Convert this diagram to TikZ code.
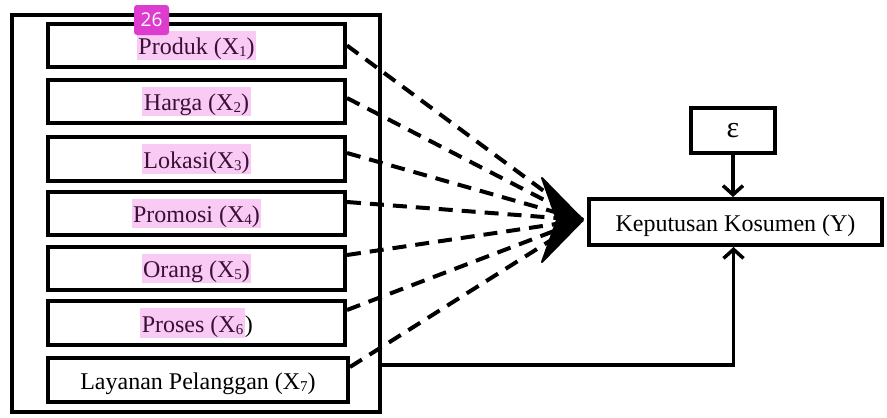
\documentclass[tikz,border=0pt]{standalone}
\usepackage{fontspec}
\setmainfont{Liberation Serif}
\newfontfamily\badgefont{Open Sans}
\usetikzlibrary{arrows.meta,calc}
\definecolor{hlpink}{RGB}{248,202,244}
\definecolor{hltext}{RGB}{58,16,54}
\definecolor{badgecol}{RGB}{222,60,206}
\newcommand{\strutr}{\rule[-4pt]{0pt}{28pt}}
\newcommand{\sbx}[1]{\raisebox{-2pt}{\fontsize{15}{15}\selectfont #1}}
\newcommand{\hlt}[1]{{\setlength{\fboxsep}{0pt}\colorbox{hlpink}{\color{hltext}\strutr\hspace{1.5pt}#1\hspace{1.5pt}}}}
\begin{document}
\begin{tikzpicture}[x=1pt,y=-1pt,
  box/.style={draw,line width=4pt,minimum width=297pt,minimum height=43.5pt,inner sep=0pt,
              font=\fontsize{24}{28}\selectfont},
  flow/.style={line width=4pt,dash pattern=on 14pt off 9pt},
  solidarrow/.style={line width=3.5pt,-{Straight Barb[length=9pt,width=20pt]}}]
\useasboundingbox (0,0) rectangle (887,418);
\node[draw,line width=4pt,minimum width=368pt,minimum height=397pt,inner sep=0pt] (outer) at (196,213.5) {};
\node[box] (b1) at (196.5,45.5) {\hlt{Produk (X\sbx{1})}};
\node[box] (b2) at (196.5,101.5) {\hlt{Harga (X\sbx{2})}};
\node[box] (b3) at (196.5,159) {\hlt{Lokasi(X\sbx{3})}};
\node[box] (b4) at (196.5,213.5) {\hlt{Promosi (X\sbx{4})}};
\node[box] (b5) at (196.5,268.5) {\hlt{Orang (X\sbx{5})}};
\node[box] (b6) at (196.5,323) {\hlt{Proses (X\sbx{6}}\strutr)};
\node[box,minimum width=300pt] (b7) at (198,380) {\strutr Layanan Pelanggan (X\sbx{7})};
\node[box,minimum width=293pt,minimum height=46pt] (K) at (735.5,222) {\strutr Keputusan Kosumen (Y)};
\node[box,minimum width=84pt,minimum height=45pt,font=\fontsize{30}{30}\selectfont] (eps) at (733,130.5) {ε};
\coordinate (T) at ([xshift=-4pt,yshift=2pt]K.west);
\draw[flow] (b1.east) -- (T);
\draw[flow] ([yshift=3.5pt]b2.east) -- (T);
\draw[flow] ([yshift=6pt]b3.east) -- (T);
\draw[flow] ([yshift=11.5pt]b4.east) -- (T);
\draw[flow] ([yshift=13.5pt]b5.east) -- (T);
\draw[flow] ([yshift=13pt]b6.east) -- (T);
\draw[flow] ([yshift=13pt]b7.east) -- (T);
\fill[draw,line width=2pt,line join=round] ($(T)+(-41,-42)$) -- (T) -- ($(T)+(-41,42)$) -- ($(T)+(-26,0)$) -- cycle;
\draw[solidarrow] (eps.south) -- (eps.south |- K.north);
\coordinate (fb) at (560,365);
\draw[solidarrow] (outer.east |- fb) -| ([xshift=-2pt]K.south);
\node[fill=badgecol,rounded corners=3pt,text=white,font=\badgefont\fontsize{19}{19}\selectfont,
      minimum width=35pt,minimum height=30pt,inner sep=0pt] (badge) at (151.5,20) {26};
\end{tikzpicture}
\end{document}
